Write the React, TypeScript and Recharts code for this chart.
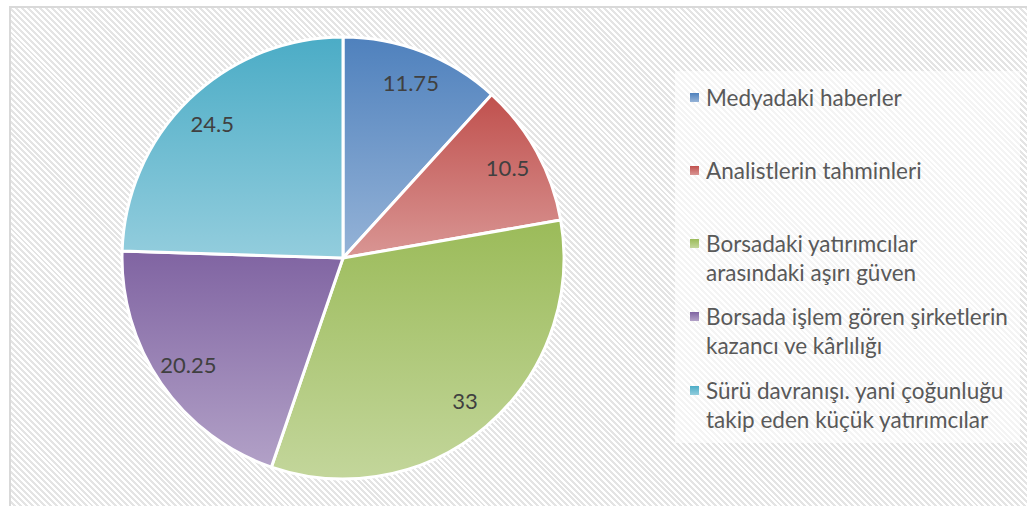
import React from "react";
import { PieChart, Pie, Cell, Legend } from "recharts";

const categories = [
  "Medyadaki haberler",
  "Analistlerin tahminleri",
  "Borsadaki yatırımcılar\narasındaki aşırı güven",
  "Borsada işlem gören şirketlerin\nkazancı ve kârlılığı",
  "Sürü davranışı. yani çoğunluğu\ntakip eden küçük yatırımcılar",
];
const values = [11.75, 10.5, 33, 20.25, 24.5];
const labels = ["11.75", "10.5", "33", "20.25", "24.5"];
const topColors = ["#4f81bd", "#c0504d", "#9bbb59", "#8064a2", "#4bacc6"];
const bottomColors = ["#95b3d7", "#d99694", "#c3d69b", "#b2a1c7", "#93cddd"];

const data = categories.map((name, i) => ({ name, value: values[i] }));

const FONT = 'Lato, "Open Sans", sans-serif';
const RAD = Math.PI / 180;

const renderLabel = (props: any) => {
  const { cx, cy, midAngle, outerRadius, index } = props;
  const r = outerRadius * 0.85;
  const x = cx + r * Math.cos(-midAngle * RAD);
  const y = cy + r * Math.sin(-midAngle * RAD);
  return (
    <text
      x={x}
      y={y}
      textAnchor="middle"
      dominantBaseline="central"
      fill="#404040"
      fontSize={22}
      fontFamily={FONT}
    >
      {labels[index]}
    </text>
  );
};

const renderLegend = () => {
  return (
    <div style={{ paddingTop: 11.5, fontFamily: FONT }}>
      {categories.map((name, i) => (
        <div key={i} style={{ position: "relative", height: 73.25 }}>
          <div
            style={{
              position: "absolute",
              left: 15,
              top: 10,
              width: 9,
              height: 9,
              background: `linear-gradient(to bottom, ${topColors[i]}, ${bottomColors[i]})`,
            }}
          />
          <div
            style={{
              position: "absolute",
              left: 31,
              top: 0,
              fontSize: 22.5,
              lineHeight: "29px",
              color: "#595959",
              whiteSpace: "pre",
            }}
          >
            {name}
          </div>
        </div>
      ))}
    </div>
  );
};

export default function App() {
  return (
    <div style={{ position: "absolute", left: 0, top: 0, width: 1027, height: 506, overflow: "hidden", background: "#fff" }}>
      <div
        style={{
          position: "absolute",
          left: 9,
          top: 6,
          width: 1040,
          height: 520,
          boxSizing: "border-box",
          border: "2px solid #d9d9d9",
          background: "repeating-linear-gradient(45deg, #ffffff 0px, #ffffff 2.1px, #e4e4e4 2.1px, #e4e4e4 4.2px)",
        }}
      >
        <PieChart
          width={1030}
          height={500}
          margin={{ top: 0, right: 0, bottom: 0, left: 0 }}
          style={{ position: "absolute", left: 0, top: 0 }}
        >
          <defs>
            {topColors.map((c, i) => (
              <linearGradient key={i} id={`grad${i}`} x1="0" y1="0" x2="0" y2="1">
                <stop offset="0%" stopColor={c} />
                <stop offset="100%" stopColor={bottomColors[i]} />
              </linearGradient>
            ))}
          </defs>
          <Pie
            data={data}
            dataKey="value"
            nameKey="name"
            cx={332}
            cy={250}
            outerRadius={221}
            startAngle={90}
            endAngle={-270}
            stroke="#ffffff"
            strokeWidth={3}
            label={renderLabel}
            labelLine={false}
            isAnimationActive={false}
          >
            {data.map((_, i) => (
              <Cell key={i} fill={`url(#grad${i})`} />
            ))}
          </Pie>
          <Legend
            content={renderLegend}
            wrapperStyle={{
              position: "absolute",
              left: 664,
              top: 63,
              width: 345,
              height: 372,
              background: "rgba(255,255,255,0.6)",
            }}
          />
        </PieChart>
      </div>
    </div>
  );
}
